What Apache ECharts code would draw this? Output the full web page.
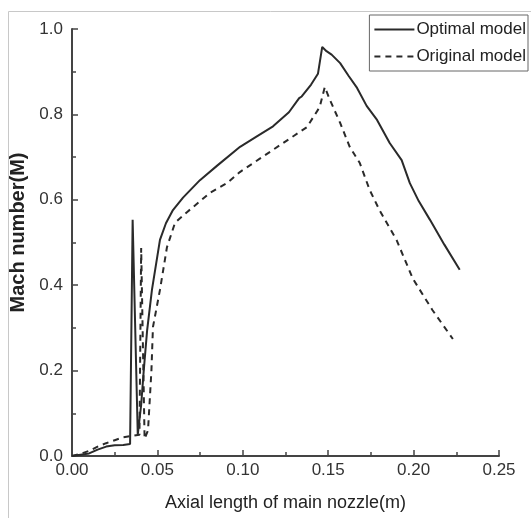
<!DOCTYPE html>
<html>
<head>
<meta charset="utf-8">
<script src="https://cdn.jsdelivr.net/npm/echarts@6/dist/echarts.min.js"></script>
<style>
html,body{margin:0;padding:0;background:#fff;}
#chart{width:531px;height:518px;}
</style>
</head>
<body>
<div id="chart"></div>
<script>
const seriesNames = ['Optimal model', 'Original model'];
const xTicks = [0, 0.05, 0.10, 0.15, 0.20, 0.25];
const yTicks = [0, 0.2, 0.4, 0.6, 0.8, 1.0];

const optimalX = [0, 0.005, 0.010, 0.015, 0.020, 0.025, 0.030, 0.034, 0.0345, 0.0355, 0.0385, 0.0405, 0.042, 0.044, 0.0468, 0.0515, 0.055, 0.0591, 0.065, 0.0749, 0.085, 0.0984, 0.108, 0.1177, 0.127, 0.133, 0.1345, 0.140, 0.144, 0.1465, 0.149, 0.152, 0.157, 0.162, 0.1669, 0.1725, 0.1786, 0.186, 0.193, 0.1978, 0.203, 0.2096, 0.218, 0.227];
const optimalY = [0, 0.003, 0.006, 0.015, 0.022, 0.025, 0.026, 0.028, 0.030, 0.553, 0.050, 0.120, 0.200, 0.295, 0.389, 0.506, 0.545, 0.576, 0.605, 0.646, 0.680, 0.724, 0.748, 0.772, 0.805, 0.838, 0.842, 0.870, 0.895, 0.958, 0.948, 0.940, 0.920, 0.890, 0.862, 0.820, 0.787, 0.733, 0.693, 0.639, 0.597, 0.553, 0.495, 0.436];

const originalX = [0, 0.005, 0.010, 0.015, 0.020, 0.025, 0.030, 0.035, 0.0395, 0.0405, 0.0425, 0.0445, 0.0465, 0.0474, 0.0515, 0.0556, 0.0603, 0.0673, 0.0807, 0.0907, 0.0983, 0.1177, 0.130, 0.1375, 0.145, 0.148, 0.151, 0.157, 0.1626, 0.1685, 0.1743, 0.180, 0.190, 0.1996, 0.211, 0.223];
const originalY = [0, 0.005, 0.012, 0.022, 0.030, 0.037, 0.044, 0.047, 0.050, 0.487, 0.040, 0.060, 0.200, 0.302, 0.389, 0.489, 0.546, 0.571, 0.616, 0.639, 0.665, 0.717, 0.750, 0.770, 0.817, 0.864, 0.834, 0.780, 0.724, 0.686, 0.623, 0.576, 0.506, 0.415, 0.342, 0.274];

const zip = (xs, ys) => xs.map((x, i) => [x, ys[i]]);

const chart = echarts.init(document.getElementById('chart'), null, {renderer: 'canvas'});
const axisColor = '#444';
const textColor = '#333';
const font = '"Liberation Sans", Arial, sans-serif';

chart.setOption({
  animation: false,
  backgroundColor: '#fff',
  textStyle: {fontFamily: font},
  graphic: [{
    type: 'rect',
    shape: {x: 8.5, y: 11.5, width: 540, height: 520},
    style: {fill: 'none', stroke: '#c8c8c8', lineWidth: 1},
    silent: true,
    z: -1
  }],
  grid: {left: 72, right: 32, top: 29, bottom: 62},
  legend: {
    orient: 'vertical',
    right: 3,
    top: 15,
    itemWidth: 40,
    itemHeight: 14,
    itemGap: 10,
    padding: [6, 2, 6, 4],
    borderColor: '#666',
    borderWidth: 1,
    itemStyle: {opacity: 0},
    textStyle: {fontSize: 17, color: '#222', fontFamily: font, padding: [0, 0, 0, -3]},
    data: seriesNames
  },
  xAxis: {
    type: 'value',
    min: 0,
    max: 0.25,
    interval: 0.05,
    name: 'Axial length of main nozzle(m)',
    nameLocation: 'middle',
    nameGap: 38,
    nameTextStyle: {fontSize: 18, color: '#222', fontFamily: font},
    axisLine: {show: true, onZero: false, lineStyle: {color: axisColor, width: 2}},
    axisTick: {show: true, inside: true, length: 6, lineStyle: {color: axisColor, width: 1.5}},
    minorTick: {show: true, splitNumber: 2, length: 4, lineStyle: {color: axisColor, width: 1.5}},
    splitLine: {show: false},
    axisLabel: {
      fontSize: 17, color: textColor, margin: 6, fontFamily: font,
      formatter: v => {
        const t = xTicks.find(k => Math.abs(k - v) < 1e-9);
        return t === undefined ? '' : t.toFixed(2);
      }
    }
  },
  yAxis: {
    type: 'value',
    min: 0,
    max: 1.0,
    interval: 0.2,
    name: 'Mach number(M)',
    nameLocation: 'middle',
    nameGap: 44,
    nameTextStyle: {fontSize: 20, fontWeight: 'bold', color: '#222', fontFamily: font, padding: [0, 0, 0, 20]},
    axisLine: {show: true, onZero: false, lineStyle: {color: axisColor, width: 2}},
    axisTick: {show: true, inside: true, length: 6, lineStyle: {color: axisColor, width: 1.5}},
    minorTick: {show: true, splitNumber: 2, length: 4, lineStyle: {color: axisColor, width: 1.5}},
    splitLine: {show: false},
    axisLabel: {
      fontSize: 17, color: textColor, margin: 9, fontFamily: font,
      formatter: v => {
        const t = yTicks.find(k => Math.abs(k - v) < 1e-9);
        return t === undefined ? '' : t.toFixed(1);
      }
    }
  },
  series: [
    {
      name: seriesNames[0],
      type: 'line',
      data: zip(optimalX, optimalY),
      symbol: 'none',
      lineStyle: {color: '#2a2a2a', width: 2, type: 'solid'},
      itemStyle: {color: '#2a2a2a'}
    },
    {
      name: seriesNames[1],
      type: 'line',
      data: zip(originalX, originalY),
      symbol: 'none',
      lineStyle: {color: '#2a2a2a', width: 2, type: [6, 5]},
      itemStyle: {color: '#2a2a2a'}
    }
  ]
});
</script>
</body>
</html>
